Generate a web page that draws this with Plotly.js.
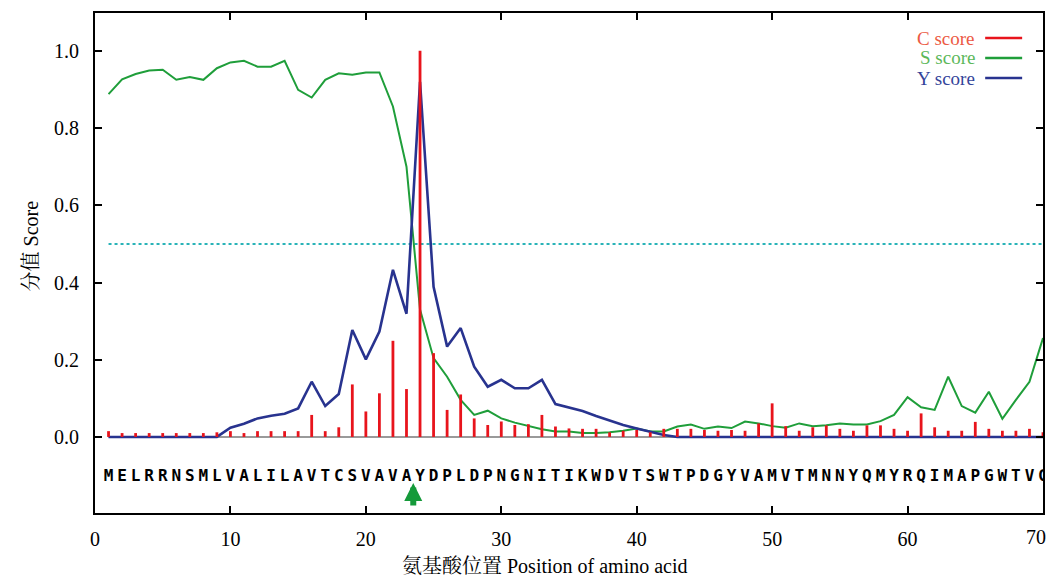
<!DOCTYPE html>
<html>
<head>
<meta charset="utf-8">
<script src="https://cdn.plot.ly/plotly-3.0.1.min.js"></script>
<style>html,body{margin:0;padding:0;background:#fff}#chart{width:1048px;height:578px}</style>
</head>
<body>
<div id="chart"></div>
<script>
// ---- data ----
var sequence = "MELRRNSMLVALILAVTCSVAVAYDPLDPNGNITIKWDVTSWTPDGYVAMVTMNNYQMYRQIMAPGWTVG".split("");
var positions = sequence.map(function (_, i) { return i + 1; });
var cScore = [0.015,0.01,0.01,0.01,0.01,0.01,0.01,0.01,0.012,0.015,
  0.01,0.015,0.015,0.015,0.015,0.057,0.015,0.025,0.136,0.066,
  0.113,0.249,0.124,1.0,0.217,0.07,0.11,0.048,0.031,0.04,
  0.031,0.033,0.057,0.027,0.022,0.021,0.021,0.012,0.016,0.018,
  0.012,0.021,0.021,0.021,0.018,0.016,0.018,0.016,0.035,0.087,
  0.028,0.016,0.025,0.03,0.021,0.016,0.03,0.03,0.021,0.016,
  0.061,0.025,0.016,0.016,0.039,0.021,0.016,0.016,0.021,0.012];
var sScore = [0.888,0.926,0.940,0.949,0.951,0.925,0.932,0.925,0.955,0.970,
  0.974,0.959,0.959,0.974,0.899,0.879,0.925,0.942,0.938,0.944,
  0.944,0.856,0.70,0.33,0.204,0.156,0.096,0.057,0.068,0.048,
  0.037,0.028,0.020,0.014,0.014,0.010,0.010,0.012,0.016,0.022,
  0.014,0.014,0.027,0.032,0.021,0.027,0.023,0.040,0.035,0.028,
  0.024,0.035,0.028,0.030,0.035,0.032,0.032,0.041,0.057,0.103,
  0.077,0.070,0.156,0.080,0.063,0.117,0.047,0.096,0.143,0.256];
var yScore = [0,0,0,0,0,0,0,0,0,0.024,
  0.034,0.048,0.055,0.060,0.074,0.143,0.080,0.111,0.277,0.201,
  0.273,0.433,0.319,0.920,0.389,0.234,0.282,0.182,0.130,0.148,
  0.126,0.126,0.148,0.085,0.076,0.067,0.054,0.042,0.031,0.022,
  0.013,0.005,0,0,0,0,0,0,0,0,
  0,0,0,0,0,0,0,0,0,0,
  0,0,0,0,0,0,0,0,0,0];
var threshold = 0.5;
var cleavageSite = 23.5;
var xTicks = [0,10,20,30,40,50,60,70];
var xTickText = ["0","10","20","30","40","50","60",""];
var lastXTickText = "70";
var yTicks = [0,0.2,0.4,0.6,0.8,1.0];
var yTickText = ["0.0","0.2","0.4","0.6","0.8","1.0"];
var legendNames = ["C score","S score","Y score"];
var xTitle = "氨基酸位置 Position of amino acid";
var yTitle = "分值 Score";

// ---- styles ----
var RED = "#e8141c", GREEN = "#1f9e3a", BLUE = "#28338f";
var serif = "Liberation Serif, Tinos, Times New Roman, DejaVu Serif, serif";
var cjk = "Liberation Serif, Noto Serif CJK SC, Noto Sans CJK SC, serif";

// C score as vertical sticks (scatter with gaps so they sit above lines)
var stickX = [], stickY = [];
positions.forEach(function (p, i) { stickX.push(p, p, null); stickY.push(0, cScore[i], null); });

var traces = [
  { x: positions, y: positions.map(function () { return 0; }), mode: "lines",
    line: { color: "#9a9a9a", width: 2 }, hoverinfo: "skip" },
  { x: positions, y: positions.map(function () { return threshold; }), mode: "lines",
    line: { color: "#2ab3b8", width: 2, dash: "dot" }, hoverinfo: "skip" },
  { x: positions, y: sScore, mode: "lines", name: legendNames[1],
    line: { color: GREEN, width: 2 } },
  { x: positions, y: yScore, mode: "lines", name: legendNames[2],
    line: { color: BLUE, width: 2.6 } },
  { x: stickX, y: stickY, mode: "lines", name: legendNames[0],
    line: { color: RED, width: 2.8 }, connectgaps: false },
  { x: positions, y: positions.map(function () { return -0.104; }), mode: "text",
    text: sequence, textposition: "middle center", hoverinfo: "skip",
    textfont: { family: "DejaVu Sans Mono, monospace", size: 16, color: "#000", weight: "bold" } }
];

var legendRows = [
  { t: legendNames[0], txt: "#ec5a44", line: RED, y: 0.950 },
  { t: legendNames[1], txt: "#5cb85a", line: GREEN, y: 0.910 },
  { t: legendNames[2], txt: "#34449a", line: BLUE, y: 0.870 }
];
var annotations = legendRows.map(function (r) {
  return { xref: "paper", yref: "paper", x: 0.929, y: r.y, xanchor: "right", yanchor: "middle",
    text: r.t, showarrow: false, borderpad: 0, font: { family: serif, size: 19, color: r.txt } };
});
annotations.push({ x: cleavageSite, y: -0.119, xref: "x", yref: "y", ax: 0, ay: 24, text: "",
  showarrow: true, arrowhead: 2, arrowsize: 0.6, arrowwidth: 6, arrowcolor: "#159a3a" });
annotations.push({ xref: "paper", yref: "paper", x: 1.0045, y: -0.048, xanchor: "right", yanchor: "middle",
  text: lastXTickText, showarrow: false, borderpad: 0, font: { family: serif, size: 20, color: "#000" } });
annotations.push({ xref: "paper", yref: "paper", x: 0.4747, y: -0.105, xanchor: "center", yanchor: "middle",
  text: xTitle, showarrow: false, borderpad: 0, font: { family: cjk, size: 20, color: "#000" } });
annotations.push({ xref: "paper", yref: "paper", x: -0.067, y: 0.534, xanchor: "center", yanchor: "middle",
  textangle: -90, text: yTitle, showarrow: false, font: { family: cjk, size: 20, color: "#000" } });

var shapes = legendRows.map(function (r) {
  return { type: "line", xref: "paper", yref: "paper", x0: 0.939, x1: 0.978, y0: r.y, y1: r.y,
    line: { color: r.line, width: 2.6 } };
});

var layout = {
  width: 1048, height: 578,
  margin: { l: 95, r: 5, t: 13, b: 65 },
  paper_bgcolor: "#fff", plot_bgcolor: "#fff",
  showlegend: false,
  font: { family: serif, size: 16, color: "#000" },
  xaxis: {
    range: [0, 70], tickvals: xTicks, ticktext: xTickText, ticks: "inside", ticklen: 7, tickwidth: 2,
    tickcolor: "#000", showline: true, linewidth: 2, linecolor: "#000", mirror: "ticks",
    showgrid: false, zeroline: false, ticklabelstandoff: 7, ticklabeloverflow: "allow",
    tickfont: { family: serif, size: 20 }
  },
  yaxis: {
    range: [-0.197, 1.098], tickvals: yTicks, ticktext: yTickText, ticks: "inside", ticklen: 7,
    tickwidth: 2, tickcolor: "#000",
    showline: true, linewidth: 2, linecolor: "#000", mirror: "ticks",
    showgrid: false, zeroline: false, ticklabelstandoff: 10,
    tickfont: { family: serif, size: 20 }
  },
  annotations: annotations,
  shapes: shapes
};

Plotly.newPlot("chart", traces, layout, { displayModeBar: false, staticPlot: true });
</script>
</body>
</html>
